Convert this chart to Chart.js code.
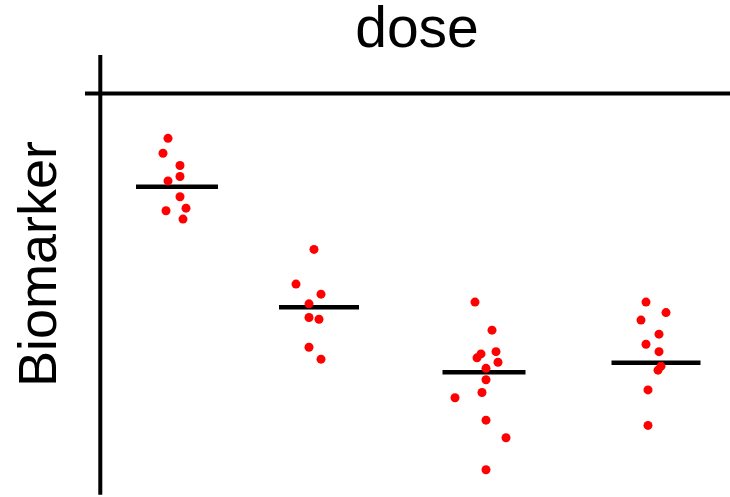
<!DOCTYPE html>
<html>
<head>
<meta charset="utf-8">
<script src="https://cdn.jsdelivr.net/npm/chart.js@4.4.0/dist/chart.umd.min.js"></script>
<style>
  html, body { margin: 0; padding: 0; background: #fff; }
  #wrap { width: 730px; height: 497px; position: relative; }
</style>
</head>
<body>
<div id="wrap"><canvas id="chart"></canvas></div>
<script>
// dose groups: x position of each group, horizontal jitter of each point, biomarker values
const groupX = [0.73, 2.15, 3.80, 5.52];
const jitter = [
  [-0.09, -0.14, 0.03, 0.03, -0.09, 0.03, 0.09, -0.11, 0.06],
  [-0.05, -0.23, 0.02, -0.10, -0.10, 0.00, -0.10, 0.02],
  [-0.09, 0.08, 0.12, -0.03, -0.07, 0.14, 0.02, 0.02, -0.02, -0.29, 0.02, 0.22, 0.02],
  [-0.10, 0.10, -0.15, 0.03, -0.10, 0.03, 0.05, 0.02, -0.08, -0.08]
];
const values = [
  [8.17, 7.83, 7.55, 7.30, 7.20, 6.84, 6.58, 6.52, 6.33],
  [5.64, 4.85, 4.62, 4.40, 4.09, 4.05, 3.41, 3.14],
  [4.44, 3.80, 3.31, 3.26, 3.17, 3.07, 2.93, 2.67, 2.38, 2.26, 1.75, 1.35, 0.62],
  [4.44, 4.20, 4.03, 3.71, 3.48, 3.31, 2.98, 2.89, 2.44, 1.63]
];
const means = [7.07, 4.32, 2.84, 3.06];
const meanHalfWidth = [0.41, 0.40, 0.415, 0.445];

// axis ranges
const xMin = 0, xMax = 6.26;
const yMin = 0, yMax = 10;
const xAxisAtY = 9.19;      // where the top axis line sits
const yAxisAtX = -0.037;    // where the left axis line sits

const datasets = [];

// points first so they end up drawn on top
values.forEach((vals, g) => {
  datasets.push({
    type: 'scatter',
    data: vals.map((v, i) => ({ x: groupX[g] + jitter[g][i], y: v })),
    backgroundColor: '#ff0000',
    borderWidth: 0,
    pointRadius: 4.5,
    pointHoverRadius: 4.5
  });
});

means.forEach((m, g) => {
  datasets.push({
    type: 'line',
    data: [{ x: groupX[g] - meanHalfWidth[g], y: m }, { x: groupX[g] + meanHalfWidth[g], y: m }],
    borderColor: '#000',
    borderWidth: 4.5,
    pointRadius: 0,
    borderCapStyle: 'butt'
  });
});

// axis lines (they cross and run past the plot box)
datasets.push({
  type: 'line',
  data: [{ x: -0.19, y: xAxisAtY }, { x: xMax, y: xAxisAtY }],
  borderColor: '#000', borderWidth: 4, pointRadius: 0, clip: false
});
datasets.push({
  type: 'line',
  data: [{ x: yAxisAtX, y: 10.07 }, { x: yAxisAtX, y: 0.05 }],
  borderColor: '#000', borderWidth: 4, pointRadius: 0, clip: false
});

// rotated y label
const yLabel = {
  id: 'yLabel',
  afterDraw(chart) {
    const c = chart.ctx;
    c.save();
    c.translate(41.5, 264);
    c.rotate(-Math.PI / 2);
    c.font = '54px "Liberation Sans", Arial, sans-serif';
    c.fillStyle = '#000';
    c.textAlign = 'center';
    c.textBaseline = 'middle';
    c.fillText('Biomarker', 0, 0);
    c.restore();
  }
};

new Chart(document.getElementById('chart'), {
  type: 'scatter',
  data: { datasets },
  options: {
    responsive: true,
    maintainAspectRatio: false,
    animation: false,
    layout: { autoPadding: false, padding: { left: 104, top: 0, right: 0, bottom: 0 } },
    plugins: {
      legend: { display: false },
      tooltip: { enabled: false },
      title: {
        display: true,
        text: 'dose',
        fullSize: false,
        color: '#000',
        font: { family: '"Liberation Sans", Arial, sans-serif', size: 57, weight: 'normal', lineHeight: 0.9 },
        padding: { top: 6, bottom: 0.7 }
      }
    },
    scales: {
      x: { type: 'linear', display: false, min: xMin, max: xMax },
      y: { type: 'linear', display: false, min: yMin, max: yMax }
    }
  },
  plugins: [yLabel]
});
</script>
</body>
</html>
